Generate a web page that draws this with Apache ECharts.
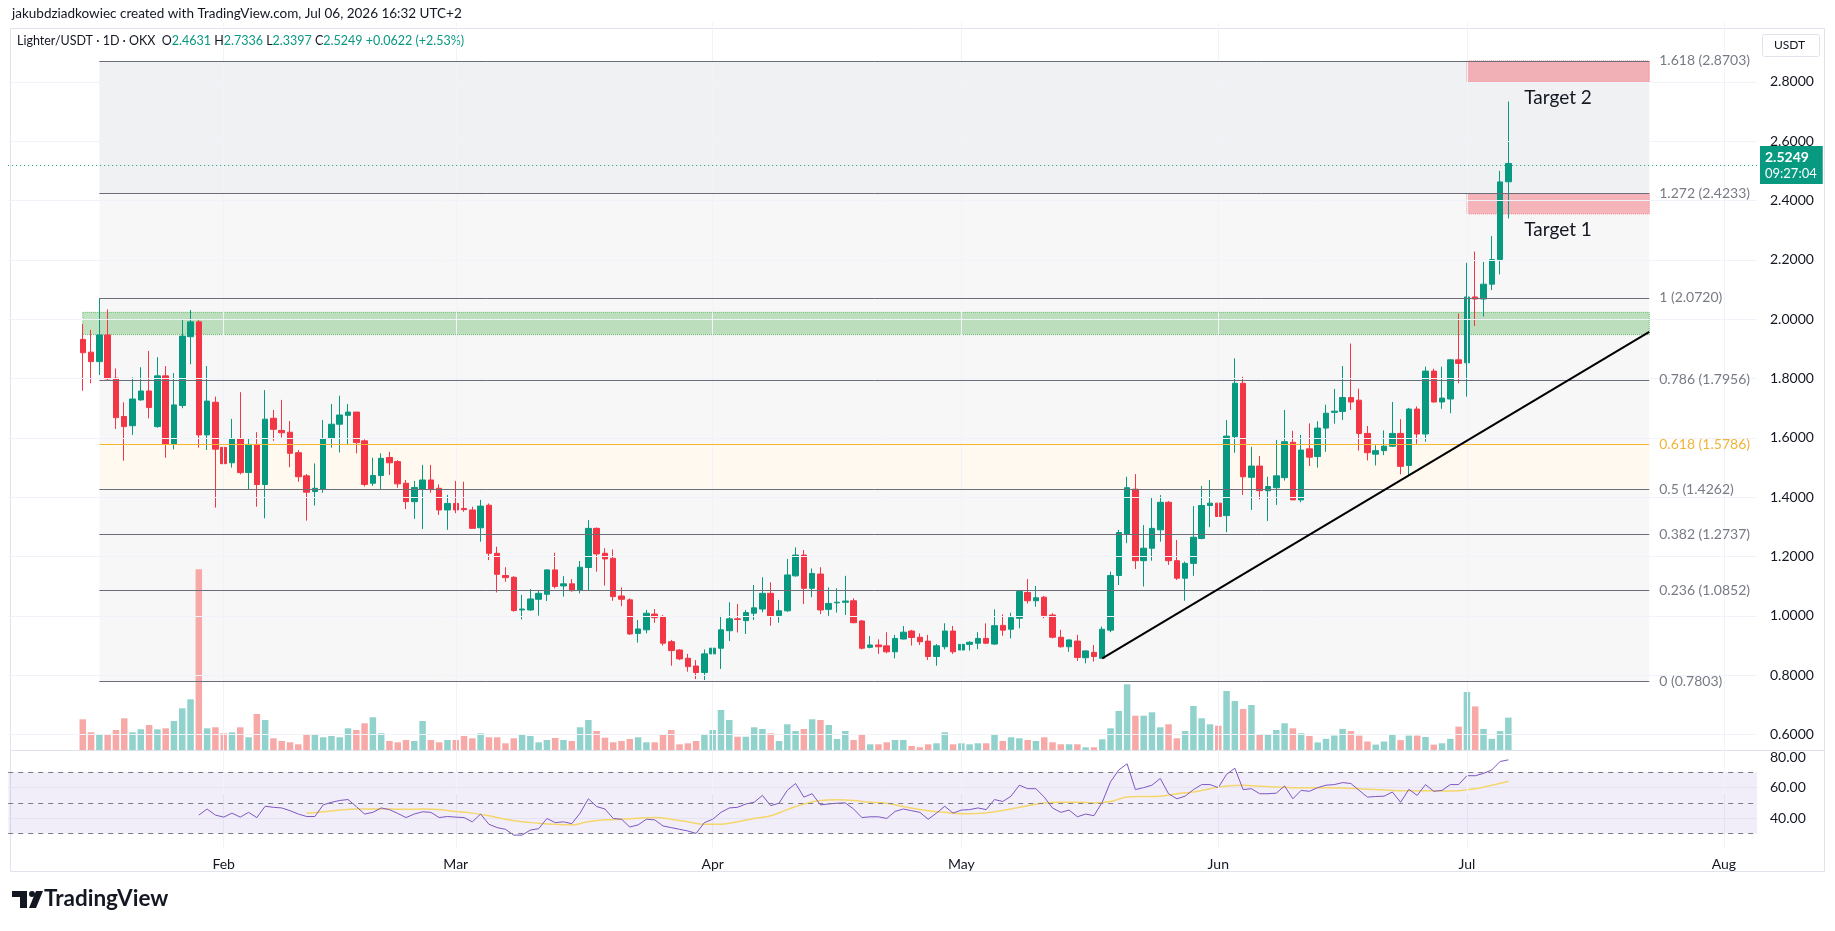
<!DOCTYPE html>
<html>
<head>
<meta charset="utf-8">
<title>Lighter/USDT 1D</title>
<script src="https://cdn.jsdelivr.net/npm/echarts@6/dist/echarts.min.js"></script>
<style>
  html, body { margin: 0; padding: 0; background: #ffffff; }
  #chart { width: 1835px; height: 931px; }
</style>
</head>
<body>
<div id="chart"></div>
<script>
'use strict';

// daily candles, Jan 15 .. Jul 6 2026
const opens = [1.932,1.889,1.857,1.947,1.801,1.672,1.641,1.728,1.758,1.638,
  1.809,1.578,1.709,1.941,1.991,1.610,1.720,1.568,1.516,1.598,
  1.483,1.578,1.443,1.666,1.625,1.619,1.550,1.472,1.419,1.427,
  1.598,1.646,1.676,1.687,1.590,1.447,1.473,1.534,1.520,1.447,
  1.385,1.428,1.458,1.430,1.357,1.379,1.362,1.357,1.297,1.373,
  1.211,1.136,1.130,1.020,1.020,1.056,1.073,1.155,1.101,1.108,
  1.087,1.163,1.295,1.211,1.194,1.067,1.054,0.941,0.953,1.006,
  0.998,0.913,0.885,0.857,0.831,0.809,0.872,0.891,0.950,0.990,
  0.984,1.009,1.023,1.076,1.001,1.017,1.135,1.205,1.093,1.141,
  1.022,1.044,1.046,1.051,0.983,0.894,0.902,0.899,0.879,0.922,
  0.949,0.928,0.915,0.863,0.896,0.949,0.885,0.904,0.908,0.924,
  0.905,0.968,0.955,0.992,1.079,1.051,1.063,1.003,0.928,0.896,
  0.915,0.859,0.877,0.857,0.952,1.136,1.276,1.427,1.186,1.228,
  1.290,1.383,1.186,1.127,1.177,1.261,1.372,1.380,1.338,1.604,
  1.784,1.467,1.505,1.422,1.432,1.466,1.585,1.391,1.563,1.537,
  1.633,1.686,1.689,1.736,1.727,1.615,1.545,1.557,1.572,1.615,
  1.507,1.697,1.613,1.825,1.721,1.731,1.863,1.853,2.075,2.068,
  2.118,2.201,2.4631];
const highs = [1.983,1.964,2.070,2.033,1.834,1.720,1.804,1.838,1.893,1.872,
  1.842,1.818,2.000,2.031,1.997,1.842,1.739,1.649,1.664,1.754,
  1.598,1.619,1.761,1.694,1.728,1.657,1.559,1.478,1.514,1.660,
  1.714,1.742,1.714,1.687,1.595,1.533,1.548,1.553,1.525,1.458,
  1.455,1.509,1.509,1.443,1.408,1.455,1.452,1.368,1.391,1.379,
  1.233,1.164,1.134,1.071,1.090,1.084,1.157,1.213,1.134,1.124,
  1.185,1.323,1.298,1.228,1.224,1.096,1.059,0.986,1.020,1.023,
  1.003,0.919,0.887,0.872,0.851,0.887,0.921,1.000,1.046,1.040,
  1.020,1.104,1.130,1.113,1.054,1.192,1.231,1.222,1.160,1.164,
  1.096,1.093,1.135,1.059,0.986,0.932,0.921,0.945,0.936,0.966,
  0.953,0.941,0.936,0.905,0.975,0.966,0.938,0.915,0.945,0.975,
  1.022,1.005,1.011,1.087,1.124,1.101,1.067,1.009,0.953,0.921,
  0.936,0.883,0.902,0.964,1.149,1.290,1.469,1.478,1.306,1.399,
  1.407,1.387,1.256,1.183,1.370,1.438,1.458,1.393,1.660,1.868,
  1.806,1.570,1.539,1.469,1.593,1.694,1.624,1.610,1.649,1.656,
  1.712,1.765,1.842,1.918,1.766,1.640,1.575,1.625,1.721,1.663,
  1.701,1.706,1.840,1.833,1.840,1.865,2.019,2.190,2.228,2.193,
  2.280,2.500,2.7336];
const lows = [1.759,1.784,1.812,1.795,1.630,1.523,1.610,1.725,1.666,1.634,
  1.533,1.561,1.700,1.848,1.567,1.559,1.365,1.427,1.500,1.477,
  1.427,1.368,1.329,1.590,1.601,1.501,1.452,1.321,1.372,1.415,
  1.567,1.551,1.578,1.548,1.436,1.438,1.427,1.475,1.432,1.360,
  1.327,1.293,1.415,1.340,1.290,1.346,1.351,1.295,1.250,1.188,
  1.079,1.115,1.014,0.988,1.017,1.001,1.050,1.093,1.065,1.082,
  1.076,1.087,1.149,1.102,1.051,1.033,0.936,0.910,0.941,0.977,
  0.900,0.832,0.851,0.812,0.787,0.784,0.851,0.821,0.915,0.944,
  0.939,0.986,1.012,0.967,0.977,1.014,1.132,1.040,1.063,1.006,
  1.000,1.011,1.003,0.975,0.887,0.891,0.872,0.874,0.857,0.921,
  0.900,0.902,0.851,0.832,0.887,0.872,0.883,0.883,0.888,0.905,
  0.902,0.933,0.924,0.958,1.042,1.031,0.992,0.924,0.893,0.879,
  0.848,0.840,0.846,0.857,0.945,1.104,1.245,1.158,1.099,1.186,
  1.250,1.172,1.121,1.051,1.135,1.258,1.299,1.226,1.282,1.550,
  1.408,1.357,1.393,1.320,1.374,1.456,1.391,1.383,1.505,1.500,
  1.553,1.648,1.660,1.694,1.557,1.524,1.507,1.542,1.569,1.477,
  1.474,1.580,1.587,1.719,1.698,1.683,1.784,1.739,1.977,2.009,
  2.098,2.151,2.3397];
const closes = [1.887,1.857,1.947,1.799,1.668,1.638,1.731,1.758,1.702,1.809,
  1.578,1.711,1.943,1.991,1.610,1.724,1.562,1.513,1.598,1.483,
  1.578,1.443,1.663,1.629,1.617,1.548,1.469,1.417,1.430,1.598,
  1.646,1.677,1.687,1.584,1.443,1.473,1.531,1.516,1.445,1.385,
  1.433,1.458,1.428,1.357,1.379,1.357,1.358,1.295,1.370,1.211,
  1.140,1.129,1.018,1.023,1.057,1.076,1.155,1.099,1.108,1.085,
  1.164,1.295,1.209,1.192,1.065,1.056,0.939,0.956,1.009,0.994,
  0.908,0.883,0.855,0.829,0.809,0.872,0.891,0.953,0.990,0.988,
  1.011,1.027,1.076,0.998,1.017,1.138,1.205,1.093,1.143,1.020,
  1.042,1.046,1.050,0.977,0.891,0.902,0.896,0.879,0.924,0.945,
  0.927,0.913,0.863,0.899,0.949,0.879,0.904,0.911,0.924,0.908,
  0.967,0.952,0.994,1.082,1.051,1.061,1.001,0.928,0.896,0.919,
  0.860,0.882,0.863,0.955,1.136,1.281,1.432,1.186,1.228,1.295,
  1.383,1.186,1.127,1.177,1.265,1.372,1.380,1.335,1.606,1.784,
  1.469,1.505,1.422,1.436,1.472,1.587,1.391,1.559,1.535,1.633,
  1.683,1.690,1.736,1.721,1.615,1.550,1.557,1.572,1.615,1.504,
  1.697,1.613,1.825,1.721,1.734,1.863,1.851,2.075,2.068,2.118,
  2.201,2.4627,2.5249];
// volume, relative units
const volumes = [30.7,17.7,16,15,20,31.7,17.7,20.7,25,20.7,
  21.7,29,41.7,50.7,180.7,21.7,22.7,16.7,17.7,22.7,
  12.7,36,30,11.7,9,7.7,5.7,16,16,12.7,
  14,12.7,21.7,20,26.7,32.7,16.7,9,7.7,10,
  9,29,10,7.7,10,10,14,11.7,16.7,12.7,
  12.7,6.7,11.7,16,14,7.7,10,12,10,9,
  22.7,30,19,12.3,7.7,9,11,12.7,7.7,7.7,
  15,20,5.7,6.7,9,16,20,40,30,13.3,
  13.3,22.7,21,16.7,9,25.7,19,21,30.7,30,
  25,11,19,10,15,5.7,5.7,7.7,10,10,
  4,2.7,5.7,6.7,17.7,5.7,6.7,5.7,6.7,6.7,
  16,9,12.7,11.7,10,9,12.7,7.7,5.7,5.7,
  5.7,2.7,2.7,10.7,21.7,39,65.7,34.3,34.3,37.7,
  22.7,25.7,11.7,19,44,31.7,25.7,24.3,59,49,
  41,45,15.7,15,20,26.7,21.7,16.7,14,7.6,
  11.2,14.4,21.1,18.9,14.4,8.5,5.4,8.5,15.7,9.9,
  14.4,14.4,13,5.4,6.7,11.2,23.4,58,43.6,21.1,
  11.2,18.9,32.4];
// RSI 14, from the 15th candle on
const rsiStart = 15;
const rsiValues = [42,46,42,40.7,43.3,40.7,43.8,40.4,47.8,47.1,
  46.7,44.9,42.7,41.1,41.1,48.7,50.4,51.6,52.2,47.6,
  42.7,43.8,46.7,45.6,43.1,40.4,42.7,44.2,43.8,40.4,
  41.1,40.7,40.4,37.6,42.7,36,33.8,32.7,28.9,28.9,
  32.2,33.1,39.8,37.1,37.6,36.4,43.3,52.7,47.6,46,
  39.8,39.3,34.2,35.6,39.3,38.9,34.9,33.8,32.7,31.6,
  30,37.1,39.3,43.8,46.7,47.1,49.3,50.4,54.9,48.2,
  49.8,58.2,62.7,53.8,56,48.7,49.3,49.8,50,46,
  40.4,40.9,40.9,39.8,44.4,46,44.9,
  43.8,39.3,43.3,47.8,43.3,45.3,45.6,46.7,45.6,52.2,
  50.9,54.4,61.6,59.3,59.3,53.8,46.7,43.8,45.3,40.9,
  42.7,41.6,50.4,63.8,71.6,75.6,58.7,60,61.6,66,
  56,52.7,54.4,58.7,62,62,60,68.7,72.7,58.7,
  59.3,56,56,56.4,61.1,52.7,58.2,57.6,60,61.6,
  62,63.3,62.7,58.2,53.8,54.2,54.4,57.1,50.4,58.9,
  54.9,62,57.6,58.2,62,62,67.8,67.8,69.3,71.6,77.1,78.2];
// RSI-based MA: [candle number, value]
const rsiMa = [[28,43.3],[30,44.2],[32,45.3],[34,46],[36,46],[38,46],[40,45.8],[42,46],
  [44,45.6],[46,44.4],[48,43.3],[50,41.6],[52,39.3],[54,37.6],[56,36.7],[58,36],
  [60,35.6],[62,37.6],[64,38.9],[66,39.3],[68,40],[70,40.4],[72,39.3],[74,37.6],
  [76,36],[78,36],[80,37.6],[82,39.8],[84,41.6],[86,45.6],[88,49.3],[90,51.6],
  [92,52],[94,51.6],[96,50.4],[98,49.8],[100,47.6],[103,44.9],[105,43.8],[107,42.9],
  [109,43.1],[111,44.2],[113,46],[115,48.2],[117,50],[119,50.4],[121,50.4],[123,50],
  [125,50.9],[127,53.8],[129,54.2],[131,54.4],[133,56],[135,57.1],[137,59.3],[139,61.1],
  [141,61.6],[143,60.9],[145,60.4],[147,60],[149,60],[151,60],[153,59.8],[155,59.3],
  [157,58.7],[159,58.2],[161,58],[163,58],[165,57.8],[167,58],[169,59.3],[171,61.6],[173,64.2]];

// fib retracement drawing
const fibRatios = ['1.618', '1.272', '1', '0.786', '0.618', '0.5', '0.382', '0.236', '0'];
const fibPrices = [2.8703, 2.4233, 2.0720, 1.7956, 1.5786, 1.4262, 1.2737, 1.0852, 0.7803];
const fibFrom = '2026-01-17';
const fibTo = '2026-07-23';
const greenZone = [1.948, 2.023];
const greenFrom = '2026-01-15';
const targets = [
  { name: 'Target 2', low: 2.800, high: 2.8703 },
  { name: 'Target 1', low: 2.355, high: 2.4233 }
];
const targetFrom = '2026-07-01';
const trendStart = ['2026-05-18', 0.857];
const trendEnd = ['2026-07-23', 1.957];
const rsiLevels = [70, 50, 30];
const priceTicks = [0.6, 0.8, 1.0, 1.2, 1.4, 1.6, 1.8, 2.0, 2.2, 2.4, 2.6, 2.8];
const countdown = '09:27:04';
const monthNames = ['Jan', 'Feb', 'Mar', 'Apr', 'May', 'Jun', 'Jul', 'Aug', 'Sep', 'Oct', 'Nov', 'Dec'];

// category axis: one slot per day, Jan 6 .. Aug 5
const days = [];
const firstDay = Date.UTC(2026, 0, 6);
for (let i = 0; i < 212; i++) {
    days.push(new Date(firstDay + i * 86400000).toISOString().slice(0, 10));
}
const candleStart = days.indexOf('2026-01-15');
const candleDays = days.slice(candleStart, candleStart + closes.length);
const isMonthStart = (idx, value) => value.slice(8) === '01';

const up = '#089981';
const down = '#f23645';
const font = "'Trebuchet MS', Lato, 'Noto Sans', sans-serif";
const textColor = '#131722';
const gridColor = '#f0f3fa';
const fibBandColors = ['rgba(120,123,134,0.11)', 'rgba(120,123,134,0.06)', 'rgba(120,123,134,0.06)',
    'rgba(120,123,134,0.06)', 'rgba(255,183,77,0.09)', 'rgba(120,123,134,0.06)',
    'rgba(120,123,134,0.06)', 'rgba(120,123,134,0.06)'];

const last = closes.length - 1;
const change = closes[last] - closes[last - 1];
const changePct = change / closes[last - 1] * 100;

const gridLeft = 8.2;
const gridRight = 78;

const fibAreas = fibPrices.slice(1).map((p, i) => [
    { xAxis: fibFrom, yAxis: fibPrices[i], itemStyle: { color: fibBandColors[i] } },
    { xAxis: fibTo, yAxis: p }
]);
const zoneAreas = [[
    { xAxis: greenFrom, yAxis: greenZone[1], itemStyle: { color: 'rgba(76,175,80,0.35)', borderColor: '#66bb6a', borderWidth: 1, borderType: 'dotted' } },
    { xAxis: fibTo, yAxis: greenZone[0] }
]].concat(targets.map(t => [
    {
        xAxis: targetFrom, yAxis: t.high,
        itemStyle: { color: 'rgba(242,54,69,0.35)', borderColor: '#f77c80', borderWidth: 1, borderType: 'dotted' },
        label: { show: true, position: 'bottom', distance: 6, formatter: t.name, color: textColor, fontSize: 19, fontFamily: font }
    },
    { xAxis: fibTo, yAxis: t.low }
]));

const fibLines = fibPrices.map((p, i) => {
    const gold = fibRatios[i] === '0.618';
    return [
        {
            coord: [fibFrom, p],
            lineStyle: { color: gold ? '#f7b731' : '#6b6e78', width: 1, type: 'solid' },
            label: {
                show: true, position: 'end', distance: 10,
                formatter: `${fibRatios[i]} (${p.toFixed(4)})`,
                color: gold ? '#f0b43a' : '#787b86', fontSize: 14, fontFamily: font,
                padding: [0, 0, 26, 0]
            }
        },
        { coord: [fibTo, p] }
    ];
});
const trendLine = [[
    { coord: trendStart, lineStyle: { color: '#000000', width: 2, type: 'solid' }, label: { show: false } },
    { coord: trendEnd }
]];
const priceLine = [{
    yAxis: closes[last],
    lineStyle: { color: up, width: 1, type: [1, 3] },
    label: {
        show: true, position: 'end', distance: 3,
        formatter: `{p|${closes[last].toFixed(4)}}\n{t|${countdown}}`,
        backgroundColor: up, padding: [4, 6, 3, 5],
        rich: {
            p: { color: '#ffffff', fontSize: 14, fontWeight: 'bold', lineHeight: 16, fontFamily: font },
            t: { color: '#ffffff', fontSize: 13, lineHeight: 15, fontFamily: font }
        }
    }
}];
const priceGrid = priceTicks.map(v => ({
    yAxis: v, lineStyle: { color: gridColor, width: 1, type: 'solid' }, label: { show: false }
}));

const candleData = candleDays.map((d, i) => [d, opens[i], closes[i], lows[i], highs[i]]);
const volumeData = candleDays.map((d, i) => ({
    value: [d, volumes[i]],
    itemStyle: { color: closes[i] >= opens[i] ? '#92d2cc' : '#f7a9a7' }
}));
const rsiData = rsiValues.map((v, i) => [candleDays[rsiStart - 1 + i], v]);
const rsiMaData = rsiMa.map(([n, v]) => [candleDays[n - 1], v]);

const hidden = { show: false };
const monthSplit = { show: true, interval: isMonthStart, lineStyle: { color: gridColor, width: 1 } };

const options = {
    animation: false,
    backgroundColor: '#ffffff',
    textStyle: { fontFamily: font, color: textColor },
    grid: [
        { left: gridLeft, right: gridRight, top: 22.5, bottom: 137.1 },
        { left: gridLeft, right: gridRight, top: 550, height: 200 },
        { left: gridLeft, right: gridRight, top: 757.1, height: 91.6 }
    ],
    xAxis: [
        { type: 'category', gridIndex: 0, data: days, boundaryGap: false, axisLine: hidden, axisTick: hidden, axisLabel: hidden, splitLine: hidden },
        { type: 'category', gridIndex: 1, data: days, boundaryGap: false, show: false },
        {
            type: 'category', gridIndex: 2, data: days, boundaryGap: false,
            axisLine: hidden, axisTick: hidden,
            axisLabel: {
                interval: isMonthStart, margin: 9, color: textColor, fontSize: 14, fontFamily: font,
                formatter: v => monthNames[+v.slice(5, 7) - 1]
            },
            splitLine: monthSplit
        }
    ],
    yAxis: [
        {
            type: 'value', gridIndex: 0, position: 'right', min: 0.4, max: 3.0, interval: 0.2,
            axisLine: hidden, axisTick: hidden, splitLine: hidden,
            axisLabel: {
                margin: 13, color: textColor, fontSize: 14, fontFamily: font,
                formatter: v => (v < 0.5 || v > 2.9) ? '' : v.toFixed(4)
            }
        },
        { type: 'value', gridIndex: 1, min: 0, max: 200, show: false },
        {
            type: 'value', gridIndex: 2, position: 'right', min: 20, max: 80, interval: 20,
            axisLine: hidden, axisTick: hidden,
            splitLine: { show: true, lineStyle: { color: ['rgba(0,0,0,0)', gridColor, gridColor, 'rgba(0,0,0,0)'] } },
            axisLabel: {
                margin: 13, color: textColor, fontSize: 14, fontFamily: font,
                formatter: v => v < 30 ? '' : v.toFixed(2)
            }
        }
    ],
    series: [
        {
            // month grid lines for the price pane
            type: 'line', xAxisIndex: 0, yAxisIndex: 0, data: [], silent: true,
            markLine: {
                silent: true, symbol: 'none', animation: false,
                label: { show: false },
                lineStyle: { color: gridColor, width: 1, type: 'solid' },
                data: days.filter(d => d.slice(8) === '01').map(d => ({ xAxis: d })).concat(priceGrid)
            }
        },
        {
            name: 'Lighter/USDT',
            type: 'candlestick',
            xAxisIndex: 0, yAxisIndex: 0,
            barWidth: 6,
            encode: { x: 0, y: [1, 2, 3, 4] },
            data: candleData,
            itemStyle: { color: up, color0: down, borderColor: up, borderColor0: down, borderWidth: 1 },
            markArea: {
                silent: true,
                data: fibAreas.concat(zoneAreas)
            },
            markLine: {
                silent: true, symbol: 'none', animation: false,
                data: fibLines.concat(trendLine, priceLine)
            }
        },
        {
            name: 'Volume',
            type: 'bar',
            xAxisIndex: 1, yAxisIndex: 1,
            barWidth: 6.5,
            data: volumeData
        },
        {
            name: 'RSI-based MA',
            type: 'line',
            xAxisIndex: 2, yAxisIndex: 2,
            data: rsiMaData,
            showSymbol: false, smooth: 0.4,
            lineStyle: { color: '#f5d66b', width: 1.5 },
            markArea: {
                silent: true,
                itemStyle: { color: 'rgba(126,87,194,0.1)' },
                data: [[{ yAxis: rsiLevels[0] }, { yAxis: rsiLevels[2] }]]
            },
            markLine: {
                silent: true, symbol: 'none', animation: false,
                label: { show: false },
                lineStyle: { color: '#787b86', width: 1, type: [5, 5] },
                data: rsiLevels.map(v => ({ yAxis: v }))
            }
        },
        {
            name: 'RSI',
            type: 'line',
            xAxisIndex: 2, yAxisIndex: 2,
            data: rsiData,
            showSymbol: false,
            lineStyle: { color: '#7e57c2', width: 1 }
        }
    ],
    graphic: [
        {
            type: 'text', left: 12, top: 7,
            style: { text: 'jakubdziadkowiec created with TradingView.com, Jul 06, 2026 16:32 UTC+2', fill: textColor, font: `13.5px ${font}` }
        },
        {
            type: 'text', left: 17, top: 34,
            style: {
                text: `{d|Lighter/USDT · 1D · OKX  O}{g|${opens[last].toFixed(4)}}{d| H}{g|${highs[last].toFixed(4)}}{d| L}{g|${lows[last].toFixed(4)}}{d| C}{g|${closes[last].toFixed(4)}}{g| +${change.toFixed(4)} (+${changePct.toFixed(2)}%)}`,
                rich: {
                    d: { fill: textColor, fontSize: 12.5, fontFamily: font },
                    g: { fill: up, fontSize: 12.5, fontFamily: font }
                }
            }
        },
        {
            type: 'rect', shape: { x: 1762.5, y: 34.5, width: 57, height: 22, r: 2 },
            style: { fill: '#ffffff', stroke: '#e0e3eb' }
        },
        {
            type: 'text', left: 1774, top: 39,
            style: { text: 'USDT', fill: textColor, font: `12px ${font}` }
        },
        {
            type: 'rect', shape: { x: 10.5, y: 28.5, width: 1814, height: 843 },
            style: { fill: 'none', stroke: '#e0e3eb' }, silent: true
        },
        {
            type: 'line', shape: { x1: 10.5, y1: 750.5, x2: 1824.5, y2: 750.5 },
            style: { stroke: '#e0e3eb' }, silent: true
        },
        {
            type: 'group', left: 12, top: 891,
            children: [
                { type: 'rect', shape: { x: 0, y: 0, width: 15, height: 6 }, style: { fill: textColor } },
                { type: 'rect', shape: { x: 8, y: 0, width: 7, height: 17 }, style: { fill: textColor } },
                { type: 'circle', shape: { cx: 20, cy: 3, r: 3 }, style: { fill: textColor } },
                { type: 'polygon', shape: { points: [[24, 0], [31, 0], [24, 17], [17, 17]] }, style: { fill: textColor } }
            ]
        },
        {
            type: 'text', left: 44, top: 887,
            style: { text: 'TradingView', fill: textColor, font: `bold 22.5px ${font}` }
        }
    ]
};

const chart = echarts.init(document.getElementById('chart'));
chart.setOption(options);
window.addEventListener('resize', () => {
    chart.resize();
});
</script>
</body>
</html>
